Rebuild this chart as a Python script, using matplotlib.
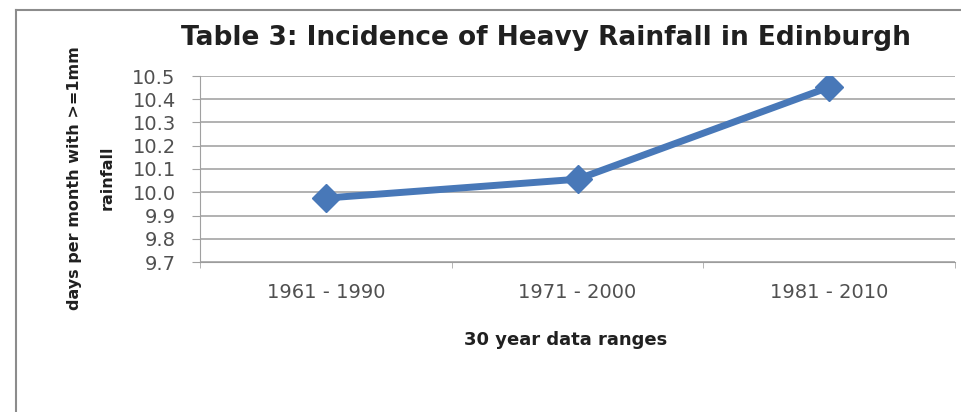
import matplotlib
matplotlib.use("Agg")
import matplotlib.pyplot as plt
from matplotlib.ticker import FormatStrFormatter, FixedLocator

categories = ["1961 - 1990", "1971 - 2000", "1981 - 2010"]
values = [9.975, 10.056, 10.452]
yticks = [9.7, 9.8, 9.9, 10.0, 10.1, 10.2, 10.3, 10.4, 10.5]

W, H = 962, 412
fig = plt.figure(figsize=(W / 100, H / 100), dpi=100)
fig.patch.set_facecolor("white")

# outer frame (top and left visible)
fig.add_artist(plt.Line2D([16 / W, 16 / W], [0, 1 - 10 / H], transform=fig.transFigure,
                          color="#8c8c8c", lw=1.5))
fig.add_artist(plt.Line2D([16 / W, 1.01], [1 - 10 / H, 1 - 10 / H], transform=fig.transFigure,
                          color="#8c8c8c", lw=1.5))

left, right, top, bottom = 200, 955, 76, 262
ax = fig.add_axes([left / W, 1 - bottom / H, (right - left) / W, (bottom - top) / H])

x = list(range(len(categories)))
ax.plot(x, values, color="#4878b8", lw=5, marker="D", markersize=14,
        markerfacecolor="#4878b8", markeredgecolor="#4878b8", solid_joinstyle="round", zorder=3)

ax.set_xlim(-0.5, len(categories) - 0.5)
ax.set_ylim(yticks[0], yticks[-1])
ax.set_yticks(yticks)
ax.yaxis.set_major_formatter(FormatStrFormatter("%.1f"))
ax.grid(axis="y", color="#9c9c9c", lw=1.1)
ax.set_axisbelow(True)

ax.set_xticks(x)
ax.set_xticklabels(categories, fontsize=14, color="#505050", family="DejaVu Sans")
ax.xaxis.set_minor_locator(FixedLocator([-0.5, 0.5, 1.5, 2.5]))
ax.tick_params(axis="x", which="major", length=0, pad=15)
ax.tick_params(axis="x", which="minor", length=4, color="#a8a8a8", direction="out")
ax.tick_params(axis="y", length=5.5, color="#a0a0a0", labelsize=14, labelcolor="#505050", pad=12)

for s in ["top", "right"]:
    ax.spines[s].set_visible(False)
ax.spines["left"].set_color("#a0a0a0")
ax.spines["bottom"].set_color("#9c9c9c")

bold = dict(fontweight="bold", family="DejaVu Sans", color="#202020")
fig.text(546 / W, 1 - 45 / H, "Table 3: Incidence of Heavy Rainfall in Edinburgh",
         ha="center", va="baseline", fontsize=19, **bold)
fig.text(566 / W, 1 - 345 / H, "30 year data ranges", ha="center", va="baseline",
         fontsize=13, **bold)
fig.text(75 / W, 1 - 178 / H, "days per month with >=1mm", ha="center", va="center",
         rotation=90, fontsize=11.5, **bold)
fig.text(107 / W, 1 - 178 / H, "rainfall", ha="center", va="center",
         rotation=90, fontsize=11.5, **bold)

fig.savefig("out.png", dpi=100, facecolor="white")
